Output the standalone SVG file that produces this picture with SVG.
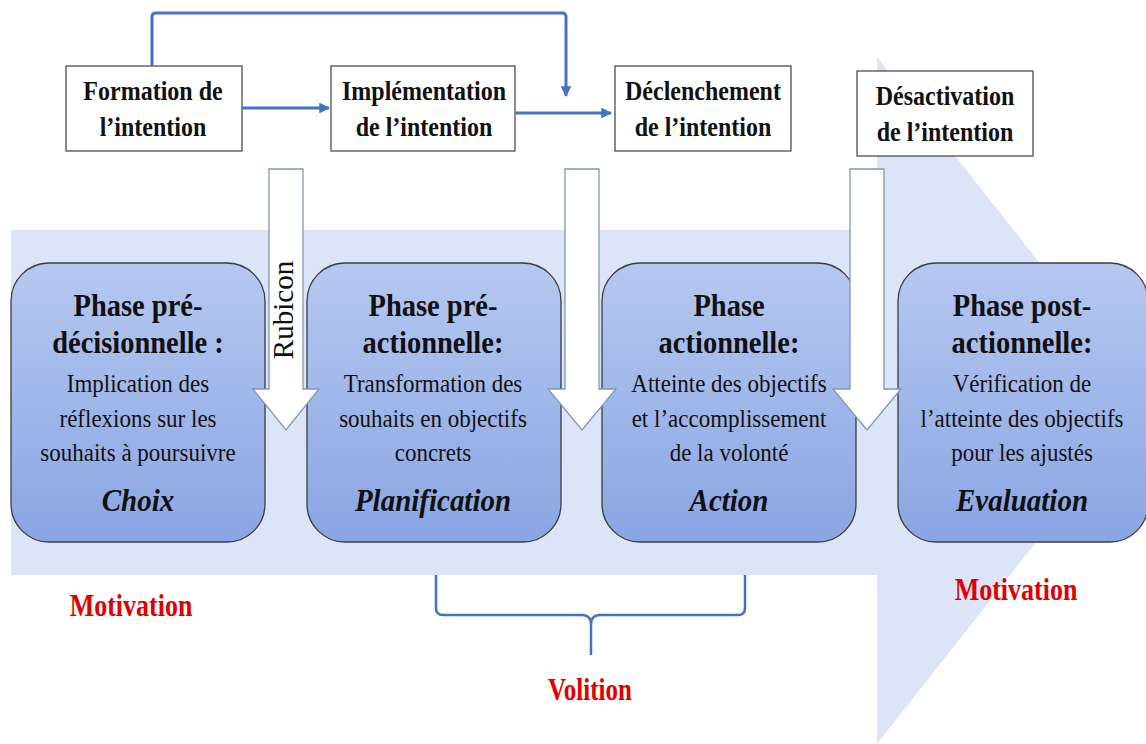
<svg xmlns="http://www.w3.org/2000/svg" width="1146" height="744" viewBox="0 0 1146 744">
<defs>
<linearGradient id="pg" x1="0" y1="0" x2="0" y2="1">
<stop offset="0" stop-color="#b6c8f0"/>
<stop offset="1" stop-color="#8aa5e3"/>
</linearGradient>
<marker id="ah" viewBox="0 0 10 10" refX="9" refY="5" markerWidth="3.6" markerHeight="3.6" orient="auto" markerUnits="strokeWidth">
<path d="M0,0 L10,5 L0,10 Z" fill="#4472c4"/>
</marker>
<style>
text{font-family:"Liberation Serif","Times New Roman",serif;fill:#111;text-anchor:middle}
.tb{font-weight:bold;font-size:24px}
.ph{font-weight:bold;font-size:28.5px}
.bd{font-size:23px}
.kw{font-weight:bold;font-style:italic;font-size:29px}
.red{font-weight:bold;font-size:26px;fill:#e00000}
.rub{font-size:29px}
.box{fill:#fff;stroke:#404040;stroke-width:1.2}
.pbox{fill:url(#pg);stroke:#3c3c3c;stroke-width:1.3}
.wa{fill:#fff;stroke:#7f97b8;stroke-width:1.3}
.con{fill:none;stroke:#4472c4;stroke-width:3}
.brace{fill:none;stroke:#4472c4;stroke-width:2.5;stroke-linejoin:round}
</style>
</defs>
<rect width="1146" height="744" fill="#fff"/>
<polygon id="bigArrow" points="11,230 877,230 877,57 1148,400 877,744 877,575 11,575" fill="#dce4f7"/>

<g id="n_formation">
<rect class="box" x="66" y="66" width="176" height="85"/>
<text class="tb" transform="translate(153,100) scale(1,1.15)">Formation de</text>
<text class="tb" transform="translate(153,136) scale(1,1.15)">l’intention</text>
</g>
<g id="n_implementation">
<rect class="box" x="331" y="66" width="184" height="85"/>
<text class="tb" transform="translate(424,100) scale(1,1.15)">Implémentation</text>
<text class="tb" transform="translate(424,136) scale(1,1.15)">de l’intention</text>
</g>
<g id="n_declenchement">
<rect class="box" x="615" y="66" width="176" height="85"/>
<text class="tb" transform="translate(703,100) scale(1,1.15)">Déclenchement</text>
<text class="tb" transform="translate(703,136) scale(1,1.15)">de l’intention</text>
</g>
<g id="n_desactivation">
<rect class="box" x="857" y="71" width="176" height="85"/>
<text class="tb" transform="translate(945,105) scale(1,1.15)">Désactivation</text>
<text class="tb" transform="translate(945,141) scale(1,1.15)">de l’intention</text>
</g>

<g id="connectors">
<path class="con" d="M242,108 L329,108" marker-end="url(#ah)"/>
<path class="con" d="M515,113 L611,113" marker-end="url(#ah)"/>
<path class="con" d="M152,66 L152,17 Q152,13 156,13 L562,13 Q566,13 566,17 L566,96" marker-end="url(#ah)"/>
<path class="brace" d="M436,575 L436,608 Q436,615 443,615 L583,615 Q591,616 591,624 L591,655 M591,624 Q591,616 599,615 L738,615 Q745,615 745,608 L745,575"/>
</g>

<g id="p_predecisionnelle">
<rect class="pbox" x="11" y="263" width="254" height="279" rx="38" ry="38"/>
<text class="ph" transform="translate(138,316) scale(1,1.13)">Phase pré-</text>
<text class="ph" transform="translate(138,353) scale(1,1.13)">décisionnelle :</text>
<text class="bd" transform="translate(138,392) scale(1,1.12)">Implication des</text>
<text class="bd" transform="translate(138,427) scale(1,1.12)">réflexions sur les</text>
<text class="bd" transform="translate(138,461) scale(1,1.12)">souhaits à poursuivre</text>
<text class="kw" transform="translate(138,511) scale(1,1.12)">Choix</text>
</g>
<g id="p_preactionnelle">
<rect class="pbox" x="307" y="263" width="254" height="279" rx="38" ry="38"/>
<text class="ph" transform="translate(433,316) scale(1,1.13)">Phase pré-</text>
<text class="ph" transform="translate(433,353) scale(1,1.13)">actionnelle:</text>
<text class="bd" transform="translate(433,392) scale(1,1.12)">Transformation des</text>
<text class="bd" transform="translate(433,427) scale(1,1.12)">souhaits en objectifs</text>
<text class="bd" transform="translate(433,461) scale(1,1.12)">concrets</text>
<text class="kw" transform="translate(433,511) scale(1,1.12)">Planification</text>
</g>
<g id="p_actionnelle">
<rect class="pbox" x="602" y="263" width="254" height="279" rx="38" ry="38"/>
<text class="ph" transform="translate(729,316) scale(1,1.13)">Phase</text>
<text class="ph" transform="translate(729,353) scale(1,1.13)">actionnelle:</text>
<text class="bd" transform="translate(729,392) scale(1,1.12)">Atteinte des objectifs</text>
<text class="bd" transform="translate(729,427) scale(1,1.12)">et l’accomplissement</text>
<text class="bd" transform="translate(729,461) scale(1,1.12)">de la volonté</text>
<text class="kw" transform="translate(729,511) scale(1,1.12)">Action</text>
</g>
<g id="p_postactionnelle">
<rect class="pbox" x="898" y="263" width="250" height="279" rx="38" ry="38"/>
<text class="ph" transform="translate(1022,316) scale(1,1.13)">Phase post-</text>
<text class="ph" transform="translate(1022,353) scale(1,1.13)">actionnelle:</text>
<text class="bd" transform="translate(1022,392) scale(1,1.12)">Vérification de</text>
<text class="bd" transform="translate(1022,427) scale(1,1.12)">l’atteinte des objectifs</text>
<text class="bd" transform="translate(1022,461) scale(1,1.12)">pour les ajustés</text>
<text class="kw" transform="translate(1022,511) scale(1,1.12)">Evaluation</text>
</g>

<g id="a_rubicon">
<polygon class="wa" points="269,169 303,169 303,389 319,389 286,430 253,389 269,389"/>
<text class="rub" transform="translate(293,310) rotate(-90)">Rubicon</text>
</g>
<g id="a_volition">
<polygon class="wa" points="565,169 599,169 599,389 616,389 582,430 548,389 565,389"/>
</g>
<g id="a_desactivation">
<polygon class="wa" points="850,169 884,169 884,389 901,389 867,430 833,389 850,389"/>
</g>

<g id="labels">
<text class="red" transform="translate(131,616) scale(1,1.25)">Motivation</text>
<text class="red" transform="translate(1016,600) scale(1,1.25)">Motivation</text>
<text class="red" style="font-size:25px" transform="translate(590,700) scale(1,1.25)">Volition</text>
</g>
</svg>
